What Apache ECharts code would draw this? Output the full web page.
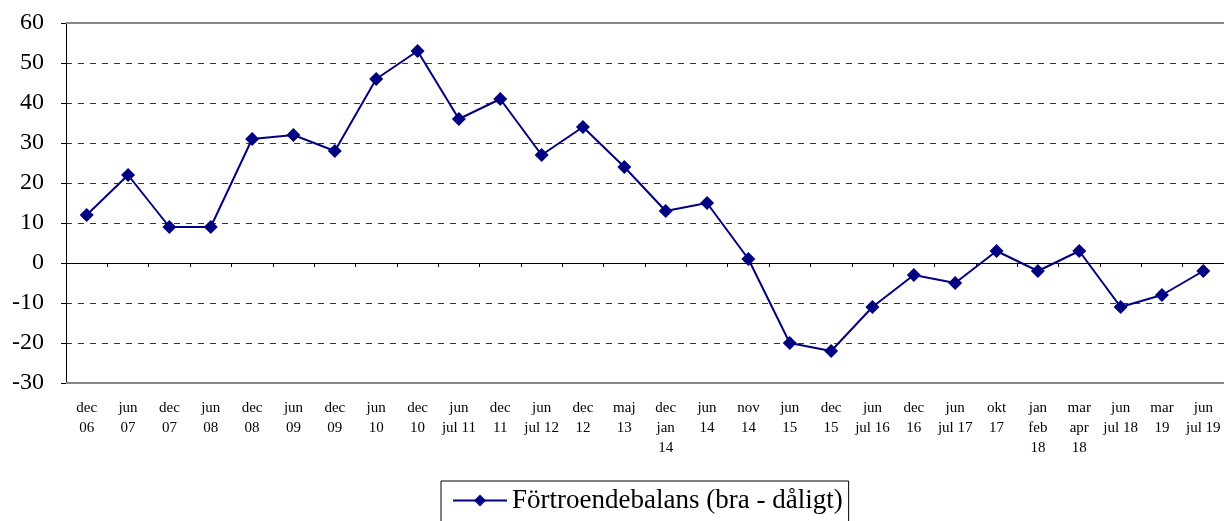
<!DOCTYPE html>
<html>
<head>
<meta charset="utf-8">
<script src="https://cdn.jsdelivr.net/npm/echarts@6/dist/echarts.min.js"></script>
<style>html,body{margin:0;padding:0;background:#fff}#c{width:1224px;height:521px}</style>
</head>
<body>
<div id="c"></div>
<script>
var categories = ['dec\n06','jun\n07','dec\n07','jun\n08','dec\n08','jun\n09','dec\n09','jun\n10','dec\n10','jun\njul 11','dec\n11','jun\njul 12','dec\n12','maj\n13','dec\njan\n14','jun\n14','nov\n14','jun\n15','dec\n15','jun\njul 16','dec\n16','jun\njul 17','okt\n17','jan\nfeb\n18','mar\napr\n18','jun\njul 18','mar\n19','jun\njul 19'];
var values = [12,22,9,9,31,32,28,46,53,36,41,27,34,24,13,15,1,-20,-22,-11,-3,-5,3,-2,3,-11,-8,-2];
var seriesName = 'Förtroendebalans (bra - dåligt)';
var yMin = -30, yMax = 60, yStep = 10;

var serif = 'Liberation Serif, Times New Roman, serif';
var chart = echarts.init(document.getElementById('c'), null, {renderer:'canvas'});
chart.setOption({
  animation: false,
  backgroundColor: '#fff',
  grid: {left: 66, right: 0, top: 23, bottom: 138, containLabel: false},
  legend: {
    data: [seriesName],
    left: 441, top: 481,
    padding: [6, 6, 30, 11],
    itemGap: 0,
    borderColor: '#000', borderWidth: 1,
    itemWidth: 54, itemHeight: 15,
    textStyle: {fontFamily: serif, fontSize: 27, color: '#000'}
  },
  xAxis: [{
    type: 'category', data: categories, boundaryGap: true,
    axisLine: {onZero: true, lineStyle: {color: '#000', width: 1}},
    axisTick: {show: true, length: 4, inside: false, lineStyle: {color: '#000'}},
    axisLabel: {show: false},
    splitLine: {show: false}
  }, {
    type: 'category', data: categories, boundaryGap: true, position: 'bottom',
    axisLine: {show: false, onZero: false},
    axisTick: {show: false},
    axisLabel: {show: true, interval: 0, margin: 15, fontFamily: serif, fontSize: 15, lineHeight: 20, color: '#000'}
  }],
  yAxis: {
    type: 'value', min: yMin, max: yMax, interval: yStep,
    axisLine: {show: true, lineStyle: {color: '#000'}},
    axisTick: {show: true, length: 5, lineStyle: {color: '#000'}},
    axisLabel: {fontFamily: serif, fontSize: 24, color: '#000', margin: 22},
    splitLine: {show: true, lineStyle: {color: '#333', type: [6, 6], width: 1}}
  },
  series: [{
    name: seriesName, type: 'line', data: values, xAxisIndex: 0,
    symbol: 'diamond', symbolSize: 14,
    lineStyle: {color: '#000080', width: 2},
    itemStyle: {color: '#000080'},
    markLine: {
      silent: true, symbol: 'none', label: {show: false},
      lineStyle: {color: '#888', type: 'solid', width: 2},
      data: [{yAxis: yMax}, {yAxis: yMin}]
    }
  }]
});
</script>
</body>
</html>
